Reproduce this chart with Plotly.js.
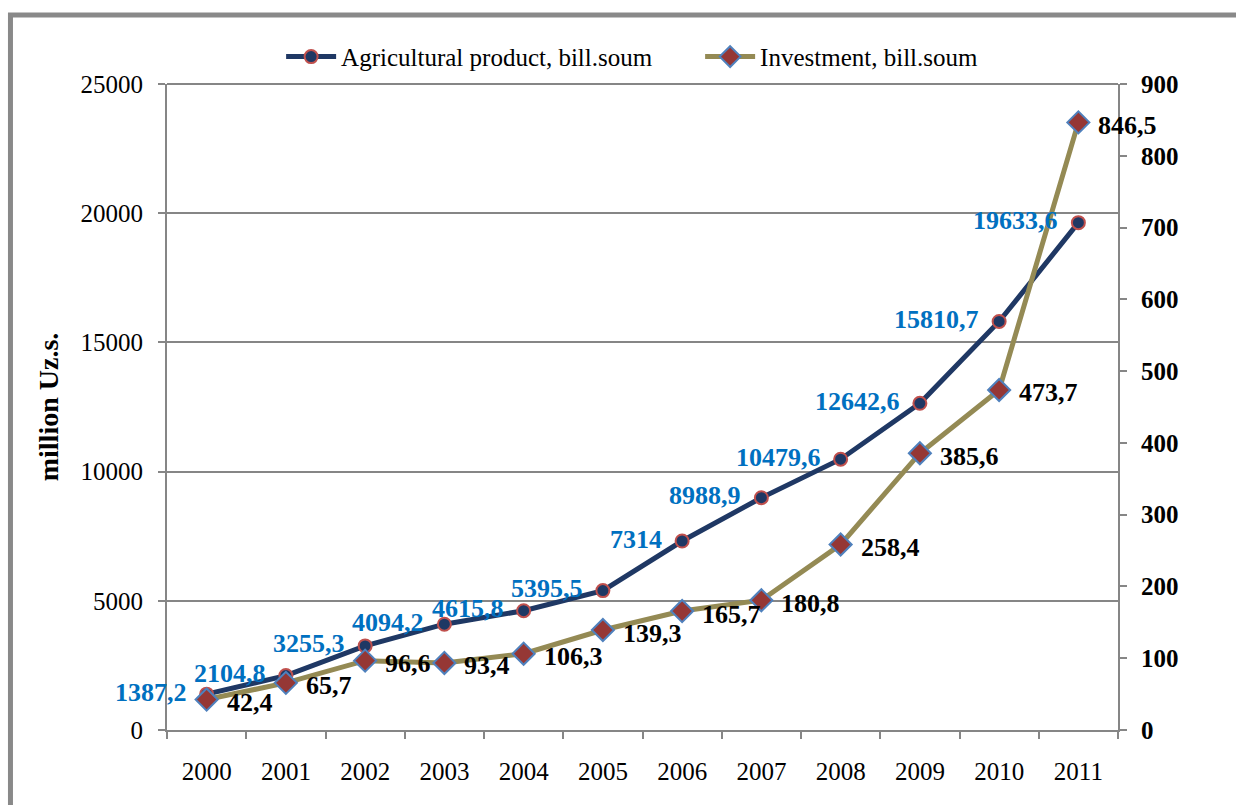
<!DOCTYPE html>
<html>
<head>
<meta charset="utf-8">
<script src="https://cdn.plot.ly/plotly-3.0.1.min.js"></script>
<style>
  html, body { margin: 0; padding: 0; background: #ffffff; }
  #chart { width: 1236px; height: 805px; }
</style>
</head>
<body>
<div id="chart"></div>
<script>
// Years on the category axis
const years = ['2000', '2001', '2002', '2003', '2004', '2005',
               '2006', '2007', '2008', '2009', '2010', '2011'];

// Agricultural product, bill. soum (left axis)
const agriValues = [1387.2, 2104.8, 3255.3, 4094.2, 4615.8, 5395.5,
                    7314, 8988.9, 10479.6, 12642.6, 15810.7, 19633.6];

// Investment, bill. soum (right axis)
const investValues = [42.4, 65.7, 96.6, 93.4, 106.3, 139.3,
                      165.7, 180.8, 258.4, 385.6, 473.7, 846.5];

const agriName = 'Agricultural product, bill.soum';
const investName = 'Investment, bill.soum';

const serif = 'Liberation Serif, Times New Roman, serif';
const axisGray = '#868686';

// Numbers are written with a decimal comma
const fmt = v => String(v).replace('.', ',');

const traces = [
  {
    type: 'scatter',
    mode: 'lines+markers',
    name: agriName,
    x: years,
    y: agriValues,
    yaxis: 'y',
    line: { color: '#1F3864', width: 5 },
    marker: { symbol: 'circle', size: 13, color: '#1F3864',
              line: { color: '#C0504D', width: 2 } },
    hoverinfo: 'x+y'
  },
  {
    type: 'scatter',
    mode: 'lines+markers',
    name: investName,
    x: years,
    y: investValues,
    yaxis: 'y2',
    line: { color: '#948A54', width: 5 },
    marker: { symbol: 'diamond', size: 17, color: '#953735',
              line: { color: '#4F81BD', width: 2 } },
    hoverinfo: 'x+y'
  }
];

// Value labels: agricultural figures sit left of their points in blue,
// investment figures sit right of theirs in black.
// On the category axis the annotation x is the category index.
const annotations = [];
years.forEach((yr, i) => {
  annotations.push({
    x: i, y: agriValues[i], xref: 'x', yref: 'y',
    text: fmt(agriValues[i]), showarrow: false,
    xanchor: 'right', yanchor: 'middle', xshift: -18, yshift: 2,
    font: { family: serif, size: 26, color: '#0070C0', weight: 'bold' }
  });
  annotations.push({
    x: i, y: investValues[i], xref: 'x', yref: 'y2',
    text: fmt(investValues[i]), showarrow: false,
    xanchor: 'left', yanchor: 'middle', xshift: 18, yshift: -3,
    font: { family: serif, size: 26, color: '#000000', weight: 'bold' }
  });
});

const layout = {
  width: 1236,
  height: 805,
  margin: { l: 167, r: 118, t: 84, b: 75 },
  paper_bgcolor: '#ffffff',
  plot_bgcolor: '#ffffff',
  font: { family: serif, color: '#000000', size: 24 },
  showlegend: true,
  legend: {
    orientation: 'h',
    x: 0.12, xanchor: 'left',
    y: 1.042, yanchor: 'middle',
    font: { family: serif, size: 25, color: '#000000' },
    itemwidth: 50,
    itemsizing: 'trace',
    entrywidthmode: 'pixels',
    entrywidth: 354,
    bgcolor: 'rgba(0,0,0,0)'
  },
  xaxis: {
    type: 'category',
    range: [-0.5, years.length - 0.5],
    autorange: false,
    showline: true, linecolor: axisGray, linewidth: 2,
    ticks: 'outside', tickson: 'boundaries', ticklen: 7,
    tickcolor: axisGray, tickwidth: 2,
    tickangle: 0,
    showgrid: false,
    ticklabelstandoff: 18,
    tickfont: { family: serif, size: 25, color: '#000000' }
  },
  yaxis: {
    range: [0, 25000],
    autorange: false,
    dtick: 5000,
    tickformat: 'd',
    showline: true, linecolor: axisGray, linewidth: 2,
    ticks: 'outside', ticklen: 7, tickcolor: axisGray, tickwidth: 2,
    showgrid: true, gridcolor: axisGray, gridwidth: 2,
    zeroline: false,
    ticklabelstandoff: 10,
    tickfont: { family: serif, size: 25, color: '#000000' },
    title: {
      text: 'million Uz.s.',
      font: { family: serif, size: 28, color: '#000000', weight: 'bold' },
      standoff: 14
    }
  },
  yaxis2: {
    range: [0, 900],
    autorange: false,
    dtick: 100,
    tickformat: 'd',
    overlaying: 'y',
    side: 'right',
    showline: true, linecolor: axisGray, linewidth: 2,
    ticks: 'outside', ticklen: 7, tickcolor: axisGray, tickwidth: 2,
    showgrid: false,
    zeroline: false,
    ticklabelstandoff: 9,
    tickfont: { family: serif, size: 25, color: '#000000', weight: 'bold' }
  },
  annotations: annotations,
  shapes: [
    // Top edge of the plot area at 25000
    { type: 'line', xref: 'paper', yref: 'paper', x0: 0, x1: 1, y0: 1, y1: 1,
      line: { color: axisGray, width: 2 } },
    // Outer gray frame around the whole chart
    { type: 'rect', xref: 'paper', yref: 'paper',
      x0: -0.1646, x1: 1.14, y0: -0.14, y1: 1.1068,
      line: { color: '#898989', width: 5 }, fillcolor: 'rgba(0,0,0,0)',
      layer: 'above' }
  ]
};

Plotly.newPlot('chart', traces, layout, { displayModeBar: false, staticPlot: true });
</script>
</body>
</html>
